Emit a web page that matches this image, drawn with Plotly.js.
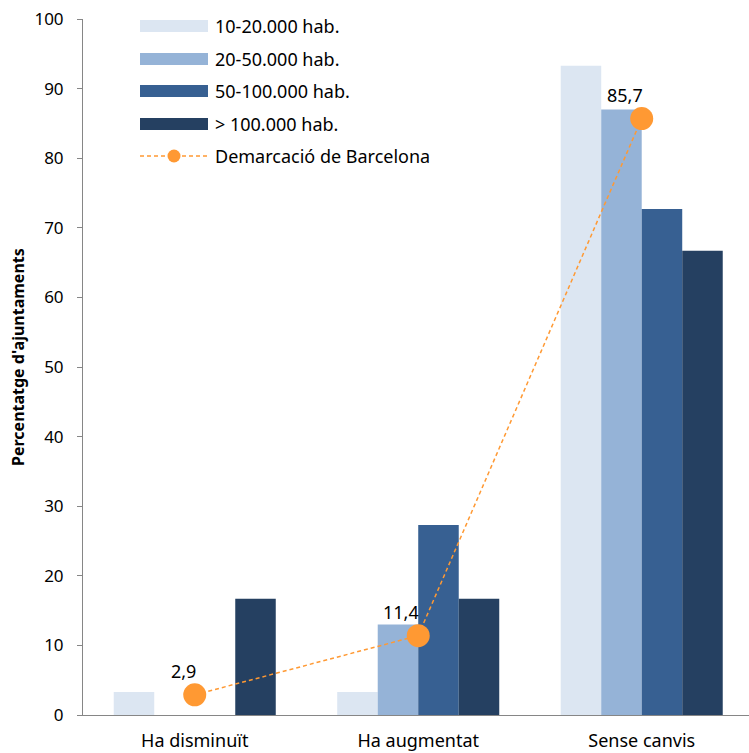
<!DOCTYPE html>
<html>
<head>
<meta charset="utf-8">
<script src="https://cdn.plot.ly/plotly-3.0.1.min.js"></script>
<style>html,body{margin:0;padding:0;background:#fff;}#chart{width:749px;height:753px;}</style>
</head>
<body>
<div id="chart"></div>
<script>
const categories = ['Ha disminuït', 'Ha augmentat', 'Sense canvis'];
const seriesNames = ['10-20.000 hab.', '20-50.000 hab.', '50-100.000 hab.', '> 100.000 hab.'];
const s10_20 = [3.3, 3.3, 93.3];
const s20_50 = [0, 13.0, 87.0];
const s50_100 = [0, 27.3, 72.7];
const s100plus = [16.7, 16.7, 66.7];
const lineName = 'Demarcació de Barcelona';
const barcelona = [2.9, 11.4, 85.7];
const yTicks = [0, 10, 20, 30, 40, 50, 60, 70, 80, 90, 100];

const colors = ['#DCE6F2', '#95B3D7', '#376092', '#254061'];
const orange = '#FF9933';
const FONT = 'Noto Sans, sans-serif';
const barSeries = [s10_20, s20_50, s50_100, s100plus];

const traces = barSeries.map((vals, i) => ({
  type: 'bar', x: categories, y: vals, name: seriesNames[i],
  marker: {color: colors[i], line: {width: 0}}, hoverinfo: 'skip'
}));
traces.push({
  type: 'scatter', mode: 'lines+markers', x: categories, y: barcelona, name: lineName,
  line: {color: orange, width: 1.5, dash: '4px,3px'},
  marker: {color: orange, size: 23}, hoverinfo: 'skip'
});

// plot-area geometry (pixels) for manual legend placement
const L = 83, T = 19, W = 666, H = 696;
const px = p => (p - L) / W;
const py = p => (T + H - p) / H;

const annotations = barcelona.map((v, i) => ({
  x: categories[i], y: v, xref: 'x', yref: 'y',
  text: String(v).replace('.', ','), showarrow: false,
  xanchor: 'right', yanchor: 'bottom', xshift: 3, yshift: 10,
  font: {family: FONT, size: 18, color: '#000'}
}));
const shapes = [];
const legendRows = [26, 59, 91, 124, 156];
seriesNames.forEach((n, i) => {
  shapes.push({type: 'rect', xref: 'paper', yref: 'paper',
    x0: px(140), x1: px(208), y0: py(legendRows[i] + 6), y1: py(legendRows[i] - 6),
    fillcolor: colors[i], line: {width: 0}});
  annotations.push({xref: 'paper', yref: 'paper', x: px(213), y: py(legendRows[i]),
    xanchor: 'left', yanchor: 'middle', text: n, showarrow: false,
    font: {family: FONT, size: 18, color: '#000'}});
});
shapes.push({type: 'line', xref: 'paper', yref: 'paper',
  x0: px(140), x1: px(208), y0: py(legendRows[4]), y1: py(legendRows[4]),
  line: {color: orange, width: 1.5, dash: '4px,3px'}});
shapes.push({type: 'circle', xref: 'paper', yref: 'paper', xsizemode: 'pixel', ysizemode: 'pixel',
  xanchor: px(174), yanchor: py(legendRows[4]), x0: -6.5, x1: 6.5, y0: -6.5, y1: 6.5,
  fillcolor: orange, line: {width: 0}});
annotations.push({xref: 'paper', yref: 'paper', x: px(213), y: py(legendRows[4]),
  xanchor: 'left', yanchor: 'middle', text: lineName, showarrow: false,
  font: {family: FONT, size: 18, color: '#000'}});
// y-axis title (as annotation so its vertical centre can match the reference)
annotations.push({xref: 'paper', yref: 'paper', x: px(18), y: py(357),
  xanchor: 'center', yanchor: 'middle', textangle: -90, showarrow: false,
  text: "Percentatge d'ajuntaments",
  font: {family: FONT, size: 16, color: '#000', weight: 'bold'}});

const layout = {
  width: 749, height: 753,
  margin: {l: L, r: 0, t: T, b: 753 - T - H},
  paper_bgcolor: '#fff', plot_bgcolor: '#fff',
  showlegend: false,
  barmode: 'group', bargap: 0.275, bargroupgap: 0,
  font: {family: FONT, size: 18, color: '#000'},
  xaxis: {
    type: 'category', range: [-0.5, 2.48], showgrid: false, zeroline: false,
    showline: true, linecolor: '#868686', linewidth: 1, ticks: '',
    ticklabelstandoff: 9, tickfont: {family: FONT, size: 18, color: '#000'}
  },
  yaxis: {
    range: [0, 100], tickvals: yTicks, showgrid: false, zeroline: false,
    showline: true, linecolor: '#868686', linewidth: 1,
    ticks: 'outside', ticklen: 5, tickcolor: '#868686', ticklabelstandoff: 10,
    tickfont: {family: FONT, size: 17, color: '#000'}
  },
  shapes: shapes,
  annotations: annotations
};

Plotly.newPlot('chart', traces, layout, {displayModeBar: false, staticPlot: true});
</script>
</body>
</html>
